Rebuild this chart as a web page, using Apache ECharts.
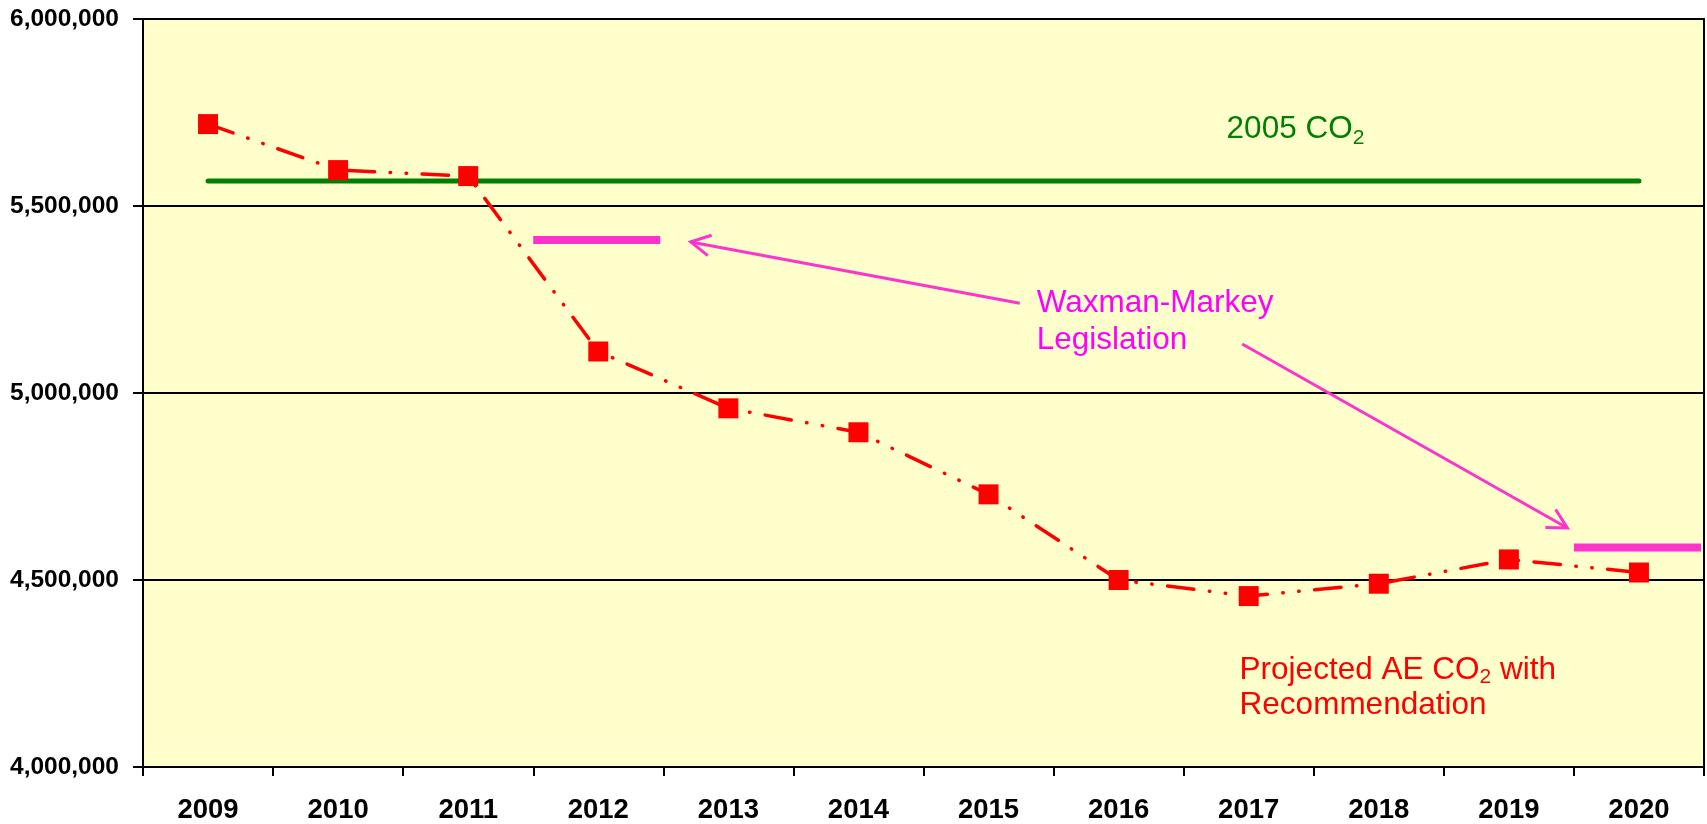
<!DOCTYPE html>
<html>
<head>
<meta charset="utf-8">
<script src="https://cdn.jsdelivr.net/npm/echarts@6/dist/echarts.min.js"></script>
<style>
html, body { margin: 0; padding: 0; background: #fff; }
#chart { width: 1707px; height: 824px; }
</style>
</head>
<body>
<div id="chart"></div>
<script>
// categories
var years = ['2009', '2010', '2011', '2012', '2013', '2014', '2015', '2016', '2017', '2018', '2019', '2020'];
// projected AE CO2 with recommendation
var projected = [5719000, 5596000, 5580000, 5111000, 4959000, 4895000, 4729000, 4500000, 4457000, 4490000, 4555000, 4520000];
// 2005 CO2 level, flat across the years
var co2005 = [5567000, 5567000, 5567000, 5567000, 5567000, 5567000, 5567000, 5567000, 5567000, 5567000, 5567000, 5567000];
// Waxman-Markey targets
var waxmanYears = ['2012', '2020'];
var waxmanCaps = [5409000, 4587000];
// y axis
var yMin = 4000000, yMax = 6000000, yStep = 500000;

// annotation arrows, in (category index, value) units
var arrowFrom = [[6.24, 5240000], [7.95, 5131000]];
var arrowTo = [[3.71, 5404000], [10.45, 4639000]];

// annotation texts, anchored left / vertical middle
var noteTexts = [
    '{m|2005 CO}{s|2}',
    '{m|Waxman-Markey}\n{m|Legislation}',
    '{m|Projected AE CO}{s|2}{m| with}\n{m|Recommendation}'
];
var noteAt = [[7.83, 5704000], [6.37, 5190000], [7.93, 4213000]];

var noteColors = ['#008000', '#ff00ff', '#ff0000'];
var noteLineHeights = [37, 37, 35];

var font = 'Liberation Sans, Arial, sans-serif';
var pink = '#ff33cc';

var chart = echarts.init(document.getElementById('chart'));

function renderCap(params, api) {
    var c = api.coord([api.value(0), api.value(1)]);
    var w = api.size([1, 0])[0];
    return {
        type: 'line',
        shape: { x1: c[0] - w / 2, y1: c[1], x2: c[0] + w / 2 - 3, y2: c[1] },
        style: { stroke: pink, lineWidth: 8 }
    };
}

function renderArrow(params, api) {
    var a = api.coord([api.value(0), api.value(1)]);
    var b = api.coord([api.value(2), api.value(3)]);
    var ang = Math.atan2(b[1] - a[1], b[0] - a[0]);
    var len = 22, spread = 0.49;
    var h1 = [b[0] - len * Math.cos(ang - spread), b[1] - len * Math.sin(ang - spread)];
    var h2 = [b[0] - len * Math.cos(ang + spread), b[1] - len * Math.sin(ang + spread)];
    return {
        type: 'group',
        children: [
            { type: 'line', shape: { x1: a[0], y1: a[1], x2: b[0], y2: b[1] },
              style: { stroke: pink, lineWidth: 3 } },
            { type: 'polyline', shape: { points: [h1, b, h2] },
              style: { stroke: pink, lineWidth: 3, fill: null } }
        ]
    };
}

function renderNote(params, api) {
    var p = api.coord([api.value(0), api.value(1)]);
    var i = params.dataIndex;
    var col = noteColors[i];
    return {
        type: 'text',
        x: p[0],
        y: p[1],
        style: {
            text: noteTexts[i],
            align: 'left',
            verticalAlign: 'middle',
            rich: {
                m: { fontSize: 31.5, fontFamily: font, fill: col, lineHeight: noteLineHeights[i] },
                s: { fontSize: 21, fontFamily: font, fill: col, lineHeight: 21, verticalAlign: 'bottom' }
            }
        }
    };
}

var capData = [];
for (var i = 0; i < waxmanYears.length; i++) {
    capData.push([years.indexOf(waxmanYears[i]), waxmanCaps[i]]);
}
var arrowData = [];
for (var j = 0; j < arrowFrom.length; j++) {
    arrowData.push([arrowFrom[j][0], arrowFrom[j][1], arrowTo[j][0], arrowTo[j][1]]);
}

var option = {
    animation: false,
    backgroundColor: '#ffffff',
    grid: {
        left: 143, right: 3, top: 19, bottom: 57,
        show: true,
        backgroundColor: '#ffffcc',
        borderColor: '#000',
        borderWidth: 2
    },
    xAxis: [{
        type: 'category',
        data: years,
        boundaryGap: true,
        axisLine: { onZero: false, lineStyle: { color: '#000', width: 2 } },
        axisTick: { show: true, length: 9, lineStyle: { color: '#000', width: 2 } },
        axisLabel: { color: '#000', fontSize: 27.5, fontWeight: 'bold', fontFamily: font, margin: 29 },
        splitLine: { show: false }
    }, {
        type: 'value',
        min: -0.5,
        max: 11.5,
        show: false,
        axisLine: { show: false, onZero: false },
        splitLine: { show: false }
    }],
    yAxis: {
        type: 'value',
        min: yMin,
        max: yMax,
        interval: yStep,
        axisLine: { show: true, onZero: false, lineStyle: { color: '#000', width: 2 } },
        axisTick: { show: true, length: 10, lineStyle: { color: '#000', width: 2 } },
        axisLabel: {
            color: '#000', fontSize: 24.5, fontWeight: 'bold', fontFamily: font, margin: 24,
            formatter: function (v) { return v.toLocaleString('en-US'); }
        },
        splitLine: { lineStyle: { color: '#000', width: 2 } }
    },
    series: [{
        name: '2005 CO2',
        type: 'line',
        data: co2005,
        symbol: 'none',
        lineStyle: { color: '#008000', width: 5, cap: 'round' },
        z: 2
    }, {
        name: 'Projected AE CO2 with Recommendation',
        type: 'line',
        data: projected,
        symbol: 'rect',
        symbolSize: 20,
        itemStyle: { color: '#ff0000' },
        lineStyle: { color: '#ff0000', width: 3.5, cap: 'round', type: [26.5, 15.5, 0.5, 15.5, 0.5, 15.5] },
        z: 3
    }, {
        name: 'Waxman-Markey',
        type: 'custom',
        xAxisIndex: 0,
        renderItem: renderCap,
        encode: { x: 0, y: 1 },
        data: capData,
        z: 3
    }, {
        name: 'arrows',
        type: 'custom',
        xAxisIndex: 1,
        renderItem: renderArrow,
        encode: { x: [0, 2], y: [1, 3] },
        data: arrowData,
        z: 4
    }, {
        name: 'notes',
        type: 'custom',
        xAxisIndex: 1,
        renderItem: renderNote,
        encode: { x: 0, y: 1 },
        data: noteAt,
        clip: false,
        z: 5
    }]
};

chart.setOption(option);
window.onresize = chart.resize;
</script>
</body>
</html>
